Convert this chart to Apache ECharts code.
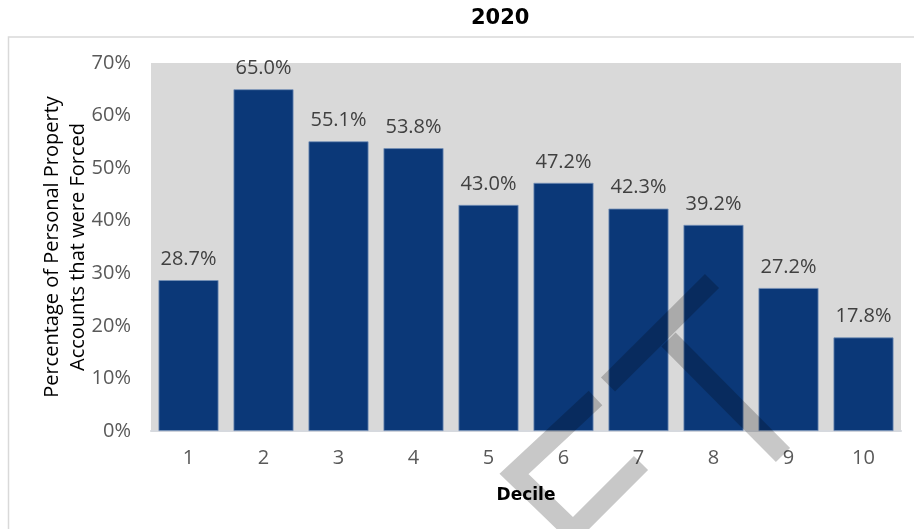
<!DOCTYPE html>
<html>
<head>
<meta charset="utf-8">
<script src="https://cdn.jsdelivr.net/npm/echarts@6/dist/echarts.min.js"></script>
<style>
html,body{margin:0;padding:0;background:#fff;}
#chart{width:914px;height:529px;}
</style>
</head>
<body>
<div id="chart"></div>
<script>
var chartTitle = '2020';
var deciles = ['1','2','3','4','5','6','7','8','9','10'];
var forcedPct = [28.7, 65.0, 55.1, 53.8, 43.0, 47.2, 42.3, 39.2, 27.2, 17.8];
var yTicks = [0, 10, 20, 30, 40, 50, 60, 70];
var xName = 'Decile';
var yName = 'Percentage of Personal Property\nAccounts that were Forced';

var chart = echarts.init(document.getElementById('chart'));
var wm = 'rgba(0,0,0,0.215)';
chart.setOption({
  animation: false,
  backgroundColor: '#ffffff',
  title: {
    text: chartTitle,
    left: 466,
    top: 3,
    textStyle: {fontFamily: 'DejaVu Sans', fontWeight: 'bold', fontSize: 21, color: '#000'}
  },
  grid: {
    left: 151, right: 13, top: 63, bottom: 98,
    show: true, backgroundColor: '#d9d9d9', borderWidth: 0
  },
  xAxis: {
    type: 'category',
    data: deciles,
    name: xName,
    nameLocation: 'middle',
    nameGap: 56,
    nameMoveOverlap: false,
    nameTextStyle: {fontFamily: 'DejaVu Sans', fontWeight: 'bold', fontSize: 17, color: '#000'},
    axisTick: {show: false},
    axisLine: {lineStyle: {color: '#d6d9de', width: 2}},
    axisLabel: {fontFamily: 'Open Sans', fontSize: 20, color: '#595959', margin: 17}
  },
  yAxis: {
    type: 'value',
    min: yTicks[0],
    max: yTicks[yTicks.length - 1],
    interval: 10,
    name: yName,
    nameLocation: 'middle',
    nameGap: 86,
    nameMoveOverlap: false,
    nameTextStyle: {fontFamily: 'Open Sans', fontSize: 20, color: '#000', lineHeight: 26, verticalAlign: 'middle', align: 'center'},
    splitLine: {show: false},
    axisLine: {show: false},
    axisTick: {show: false},
    axisLabel: {fontFamily: 'Open Sans', fontSize: 20, color: '#595959', margin: 20, formatter: '{value}%'}
  },
  series: [{
    type: 'bar',
    data: forcedPct,
    barCategoryGap: '20%',
    itemStyle: {color: '#0b3878', borderColor: '#7590b8', borderWidth: 0.8},
    label: {
      show: true,
      position: 'top',
      distance: 11,
      fontFamily: 'Open Sans',
      fontSize: 20,
      color: '#404040',
      formatter: function (p) { return p.value.toFixed(1) + '%'; }
    }
  }],
  graphic: [
    {type: 'rect', z: -10, silent: true, shape: {x: 8.5, y: 37, width: 1000, height: 600},
     style: {fill: 'none', stroke: '#d9d9d9', lineWidth: 1.5}},
    {type: 'polyline', z: 100, silent: true, shape: {points: [[712, 281], [608, 384.5]]},
     style: {fill: null, stroke: wm, lineWidth: 20, lineCap: 'butt'}},
    {type: 'polyline', z: 100, silent: true, shape: {points: [[668.5, 339.5], [783, 455]]},
     style: {fill: null, stroke: wm, lineWidth: 20, lineCap: 'butt'}},
    {type: 'polyline', z: 100, silent: true, shape: {points: [[595.5, 398], [514, 474], [573, 531], [641, 463]]},
     style: {fill: null, stroke: wm, lineWidth: 20, lineCap: 'butt', lineJoin: 'miter'}}
  ]
});
</script>
</body>
</html>
